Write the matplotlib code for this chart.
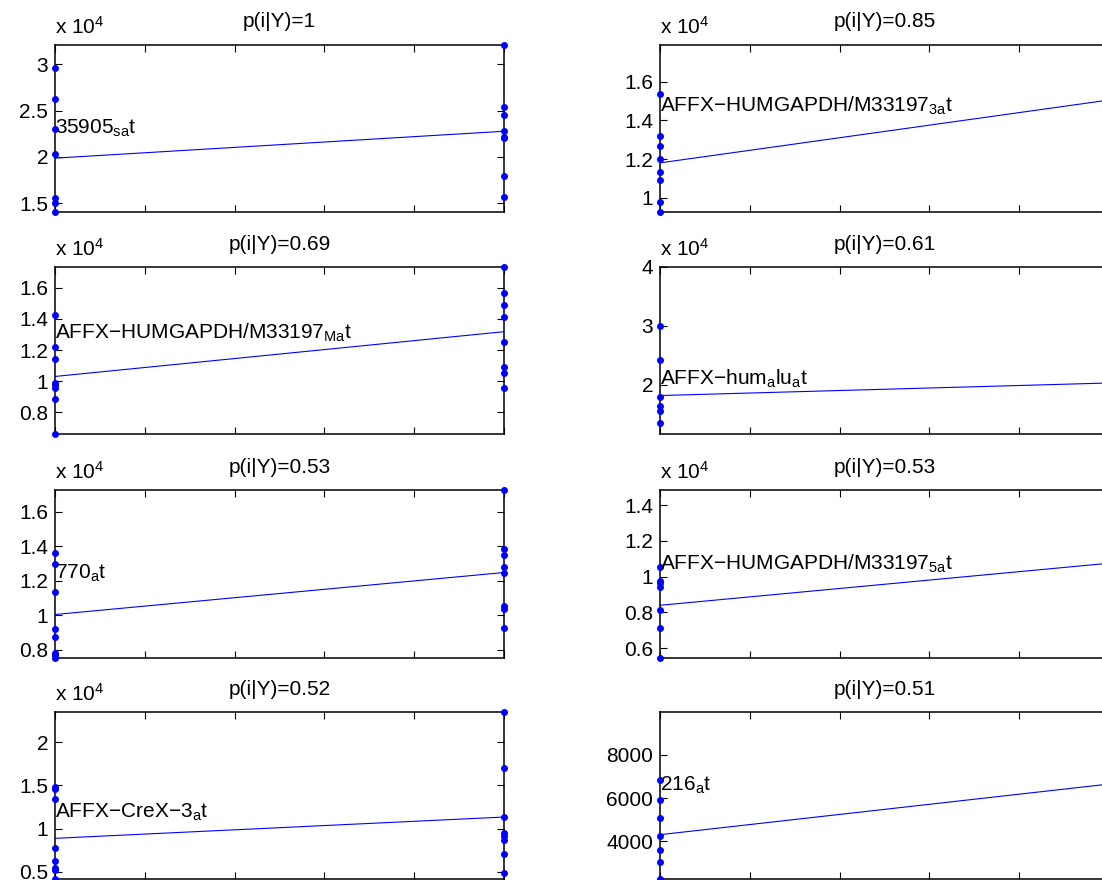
import re

import numpy as np
import matplotlib
matplotlib.use('Agg')
import matplotlib.pyplot as plt
from matplotlib.ticker import FuncFormatter


titles = ['p(i|Y)=1', 'p(i|Y)=0.85', 'p(i|Y)=0.69', 'p(i|Y)=0.61',
          'p(i|Y)=0.53', 'p(i|Y)=0.53', 'p(i|Y)=0.52', 'p(i|Y)=0.51']
gene_names = ['35905_s_at', 'AFFX-HUMGAPDH/M33197_3_at',
              'AFFX-HUMGAPDH/M33197_M_at', 'AFFX-hum_alu_at',
              '770_at', 'AFFX-HUMGAPDH/M33197_5_at',
              'AFFX-CreX-3_at', '216_at']

# expression in class 1 (x=0) and class 2 (x=1)
class1 = [
    [29570, 26300, 23000, 20360, 15570, 15030, 14030],
    [15350, 13170, 12660, 12020, 11350, 10890, 9770, 9260],
    [14250, 12220, 11410, 9880, 9730, 9550, 8870, 6570],
    [30000, 24300, 17900, 16500, 15600, 13500],
    [13630, 12960, 11330, 9190, 8750, 7830, 7690, 7540],
    [10540, 9780, 9630, 9400, 8120, 7150, 5480],
    [14820, 14630, 13390, 7780, 6240, 5470, 5160, 4100],
    [6840, 5890, 5070, 4230, 3620, 3070, 2240],
]
class2 = [
    [32160, 25430, 24570, 22800, 22200, 22000, 17900, 15650],
    [17920, 15800, 14500, 13200],
    [17340, 15680, 14890, 14140, 12540, 10940, 10520, 9580],
    [40000, 22000, 11600],
    [17270, 13850, 13480, 12790, 12480, 10520, 10380, 9270],
    [14840, 12000, 9000],
    [23520, 17000, 11380, 9520, 9140, 8640, 7010, 4900],
    [9980, 7500, 5000],
]
# fitted line at x=0 and x=1
fit_ends = [
    [19860, 22770], [11800, 15050], [10300, 13180], [18200, 20330],
    [10040, 12480], [8400, 10750], [8870, 11340], [4310, 6650],
]
label_y = [23100, 14750, 13120, 21100, 12440, 10740, 11840, 6580]
yticks = [
    [15000, 20000, 25000, 30000],
    [10000, 12000, 14000, 16000],
    [8000, 10000, 12000, 14000, 16000],
    [20000, 30000, 40000],
    [8000, 10000, 12000, 14000, 16000],
    [6000, 8000, 10000, 12000, 14000],
    [5000, 10000, 15000, 20000],
    [4000, 6000, 8000],
]


def tex_label(name):
    # underscores act like TeX subscripts, '-' shows as a minus sign
    s = re.sub(r'((?:_.)+)',
               lambda m: '$_{' + m.group(1).replace('_', '') + '}$', name)
    return s.replace('-', '\u2212')


plt.rcParams['font.family'] = ['Liberation Sans', 'DejaVu Sans']
plt.rcParams['mathtext.default'] = 'regular'

fs = 15
fig = plt.figure(figsize=(11.02, 8.8), dpi=100)

col_left = [55 / 1102, 660 / 1102]
width = 449 / 1102
row_bottom = [0.7591, 0.5063, 0.2528, 0.0006]
height = 0.1903

for i in range(8):
    r, c = divmod(i, 2)
    ax = fig.add_axes([col_left[c], row_bottom[r], width, height])

    y1 = np.array(class1[i], dtype=float)
    y2 = np.array(class2[i], dtype=float)
    ax.plot([0, 1], fit_ends[i], color='b', lw=0.8, zorder=2)
    ax.plot(np.zeros(len(y1)), y1, 'o', color='b', ms=4, clip_on=False, zorder=3)
    ax.plot(np.ones(len(y2)), y2, 'o', color='b', ms=4, clip_on=False, zorder=3)

    allv = np.concatenate([y1, y2])
    ax.set_xlim(0, 1)
    ax.set_ylim(allv.min(), allv.max())
    ax.set_xticks(np.linspace(0, 1, 6))
    ax.set_xticklabels([])
    ax.set_yticks(yticks[i])

    scaled = allv.max() >= 1e4
    if scaled:
        ax.yaxis.set_major_formatter(FuncFormatter(lambda v, p: '%g' % (v / 1e4)))
        ax.annotate('x 10$^4$', xy=(0, 1), xycoords='axes fraction',
                    xytext=(0, 8), textcoords='offset points',
                    ha='left', va='baseline', fontsize=fs)
    else:
        ax.yaxis.set_major_formatter(FuncFormatter(lambda v, p: '%d' % v))

    ax.tick_params(direction='in', top=True, right=True, length=5,
                   width=0.8, labelsize=fs, pad=5)
    for sp in ax.spines.values():
        sp.set_linewidth(1.1)
    ax.set_title(titles[i], fontsize=fs, pad=12.5)
    ax.text(0, label_y[i], tex_label(gene_names[i]), ha='left', va='center',
            fontsize=fs, zorder=4)

fig.savefig('out.png', dpi=100)
